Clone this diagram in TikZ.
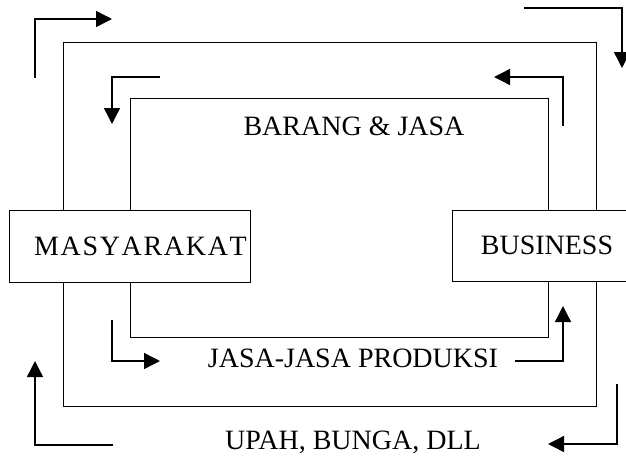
\documentclass[tikz,border=0pt]{standalone}
\usepackage{fontspec}
\setmainfont{Liberation Serif}
\newfontfamily\widefont[Kerning=Off,LetterSpace=6]{Liberation Serif}
\usetikzlibrary{arrows.meta}

\tikzset{
  flowline/.style={line width=0.8pt},
  turnarrow/.style={line width=1.4pt, -{Triangle[length=16pt,width=16pt]}},
  sectorbox/.style={draw, line width=0.8pt, fill=white, inner sep=0pt},
  flowlabel/.style={anchor=base, inner sep=0.75pt},
}

\begin{document}
\begin{tikzpicture}[x=1pt,y=1pt,yscale=-1]
\useasboundingbox (0,0) rectangle (626,458);
\clip (0,0) rectangle (626,458);
\fontsize{28}{32}\selectfont

% Corners of the two loops
\coordinate (outerTL) at (63,42);
\coordinate (outerTR) at (596,42);
\coordinate (outerBL) at (63,406);
\coordinate (outerBR) at (596,406);
\coordinate (innerTL) at (130,98);
\coordinate (innerTR) at (548,98);
\coordinate (innerBL) at (130,337);
\coordinate (innerBR) at (548,337);

%Shape: Rectangle
\node [sectorbox, minimum width=241pt, minimum height=72pt] (masy) at (129.5,246) {\hspace*{22pt}\widefont\fontsize{28}{32}\selectfont MASYARAKAT};
%Shape: Rectangle
\node [sectorbox, minimum width=190pt, minimum height=71pt] (bus) at (547,245.5) {BUSINESS};

%Straight Lines
\draw [flowline] (masy.north -| outerTL) -- (outerTL) -- (outerTR) -- (bus.north -| outerTR) ;
%Straight Lines
\draw [flowline] (masy.north -| innerTL) -- (innerTL) -- (innerTR) -- (bus.north -| innerTR) ;
%Straight Lines
\draw [flowline] (masy.south -| innerBL) -- (innerBL) -- (innerBR) -- (bus.south -| innerBR) ;
%Straight Lines
\draw [flowline] (masy.south -| outerBL) -- (outerBL) -- (outerBR) -- (bus.south -| outerBR) ;

%Arrows
\draw [turnarrow] (35,78) -- (35,19) -- (112,19) ;
\draw [turnarrow] (160,77) -- (112,77) -- (112,124) ;
\draw [turnarrow] (524,8) -- (622,8) -- (622,68) ;
\draw [turnarrow] (563,126) -- (563,77) -- (494,77) ;
\draw [turnarrow] (112,320) -- (112,361) -- (160,361) ;
\draw [turnarrow] (515,361) -- (563,361) -- (563,306) ;
\draw [turnarrow] (113,445) -- (35,445) -- (35,361) ;
\draw [turnarrow] (617,384) -- (617,444) -- (548,444) ;

% Text Node
\node [flowlabel] (goods) at (354,135) {BARANG \& JASA};
% Text Node
\node [flowlabel] (factors) at (353,367) {JASA-JASA PRODUKSI};
% Text Node
\node [flowlabel] (income) at (353,449) {UPAH, BUNGA, DLL};

\end{tikzpicture}
\end{document}
